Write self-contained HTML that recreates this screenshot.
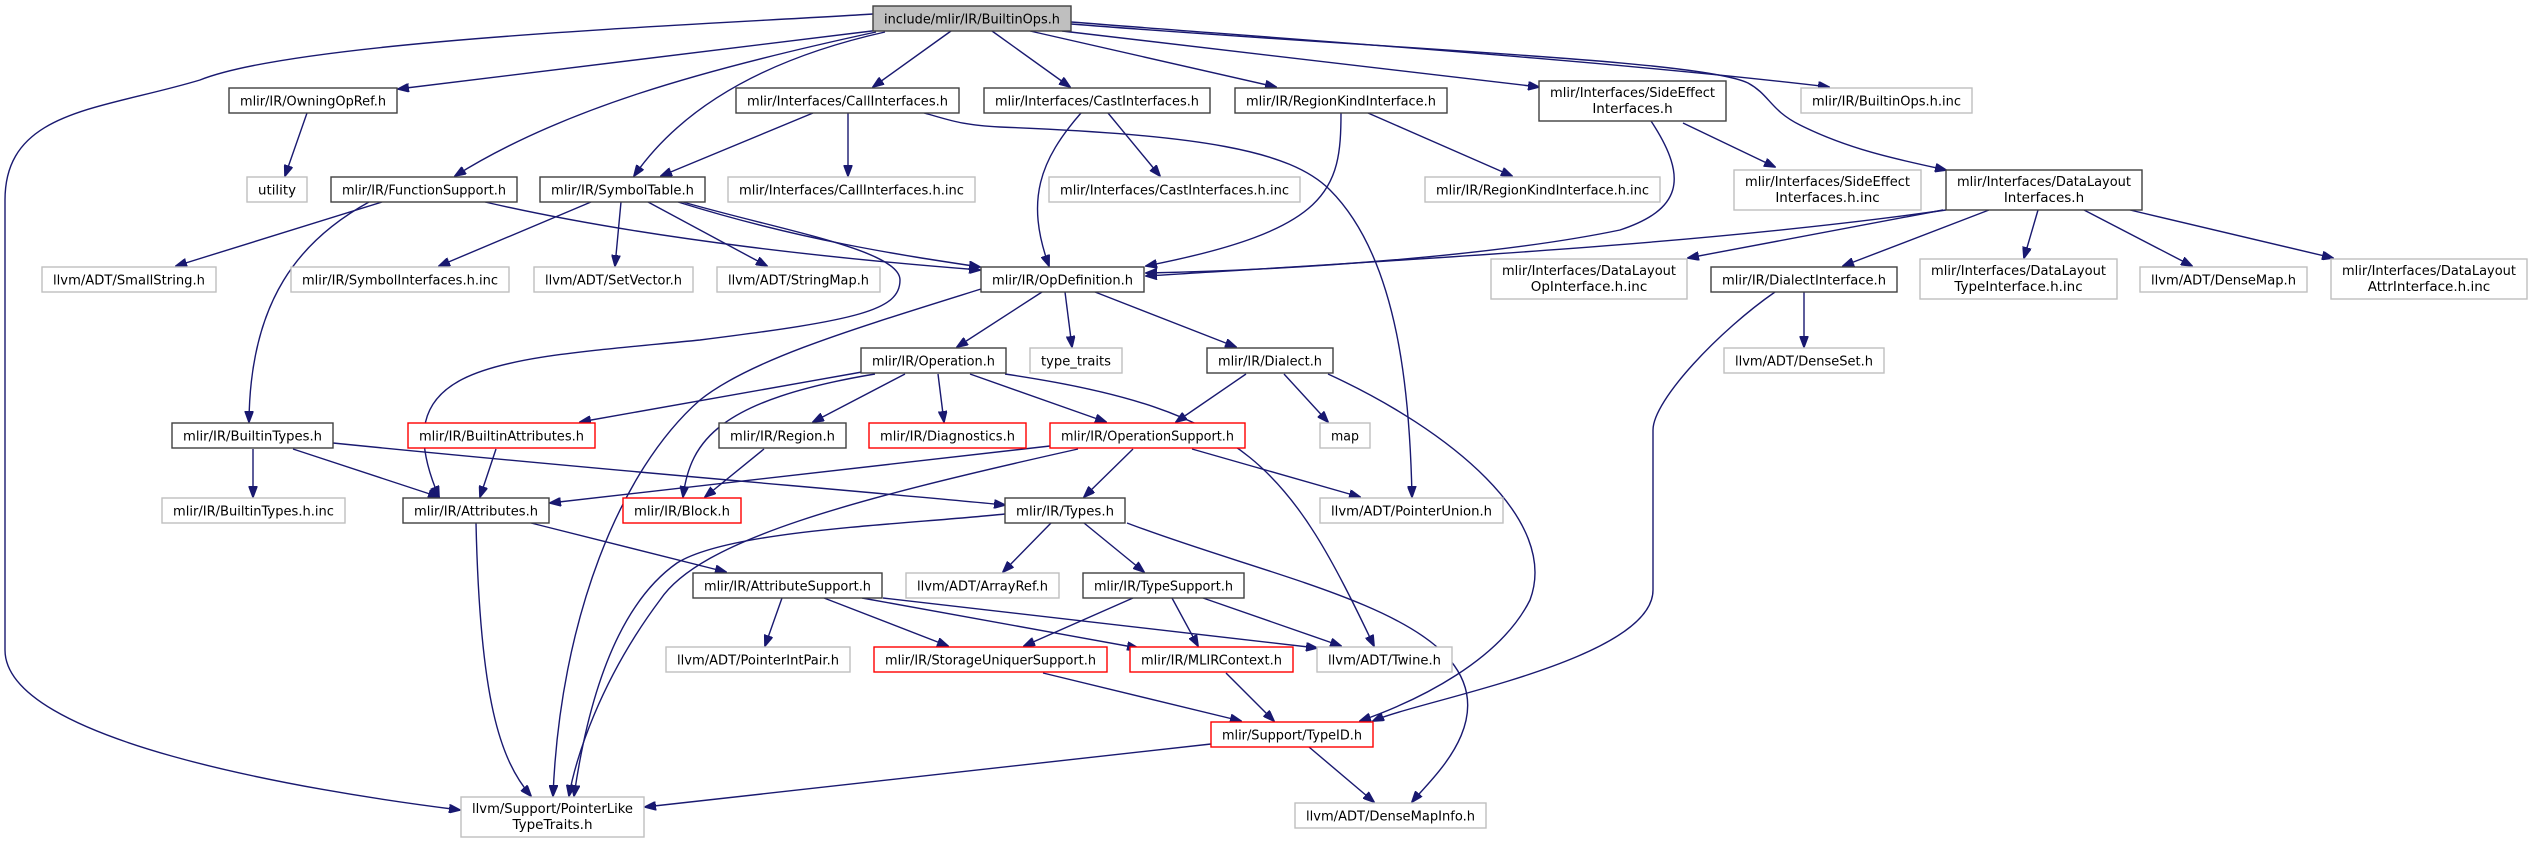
<!DOCTYPE html>
<html><head><meta charset="utf-8"><style>
html,body{margin:0;padding:0;background:#fff;}
svg{display:block}
text{font-family:"DejaVu Sans","Liberation Sans",sans-serif;font-size:13.5px;fill:#000}
.e{fill:none;stroke:#191970;stroke-width:1.4}
</style></head><body>
<svg width="2533" height="843" viewBox="0 0 2533 843" xmlns="http://www.w3.org/2000/svg">
<defs><marker id="a" markerWidth="12" markerHeight="9" refX="11" refY="4.5" orient="auto" markerUnits="userSpaceOnUse"><path d="M0,0 L12,4.5 L0,9 Z" fill="#191970" stroke="#191970"/></marker></defs>
<g marker-end="url(#a)" class="e">
<path class="e" d="M873,14 C700,25 300,40 200,80 C100,110 5,110 5,200 L5,650 C5,740 300,790 460,810"/>
<path class="e" d="M880,30 L398,89"/>
<path class="e" d="M876,32 C700,70 560,110 455,176"/>
<path class="e" d="M885,32 C760,60 680,110 634,176"/>
<path class="e" d="M951,31 L873,87"/>
<path class="e" d="M992,31 L1070,87"/>
<path class="e" d="M1030,31 L1276,87"/>
<path class="e" d="M1062,31 L1539,87"/>
<path class="e" d="M1071,22 C1300,40 1600,60 1829,87"/>
<path class="e" d="M1071,24 C1400,50 1700,60 1748,83 C1770,95 1770,110 1800,125 C1850,150 1900,160 1946,170"/>
<path class="e" d="M813,113 L661,176"/>
<path class="e" d="M848,113 L848,176"/>
<path class="e" d="M924,113 C950,120 960,125 1000,127 C1200,135 1290,150 1330,190 C1400,260 1410,400 1412,497"/>
<path class="e" d="M1081,113 C1040,160 1025,200 1049,266"/>
<path class="e" d="M1108,113 L1160,176"/>
<path class="e" d="M1341,113 C1341,190 1330,230 1146,266"/>
<path class="e" d="M1368,113 L1512,176"/>
<path class="e" d="M1651,121 C1690,180 1680,210 1620,230 C1500,255 1300,270 1146,273"/>
<path class="e" d="M1683,123 L1775,167"/>
<path class="e" d="M1946,210 C1700,245 1400,260 1146,276"/>
<path class="e" d="M1943,210 L1688,258"/>
<path class="e" d="M1989,210 L1843,266"/>
<path class="e" d="M2038,210 L2024,258"/>
<path class="e" d="M2084,210 L2192,266"/>
<path class="e" d="M2130,210 L2333,258"/>
<path class="e" d="M1804,292 L1804,347"/>
<path class="e" d="M1775,292 C1720,330 1653,400 1653,430 L1653,590 C1653,660 1420,700 1373,721"/>
<path class="e" d="M307,113 L285,176"/>
<path class="e" d="M382,202 L176,266"/>
<path class="e" d="M369,202 C300,240 250,300 249,422"/>
<path class="e" d="M485,202 C650,240 850,260 980,270"/>
<path class="e" d="M591,202 L439,266"/>
<path class="e" d="M621,202 L615,266"/>
<path class="e" d="M648,202 L767,266"/>
<path class="e" d="M678,202 C800,240 900,255 980,267"/>
<path class="e" d="M683,202 C780,230 900,250 900,280 C900,310 860,320 700,340 C500,360 380,360 439,497"/>
<path class="e" d="M981,289 C850,330 750,360 700,400 C620,470 560,620 553,796"/>
<path class="e" d="M1042,292 L957,347"/>
<path class="e" d="M1065,292 L1072,347"/>
<path class="e" d="M1095,292 L1236,347"/>
<path class="e" d="M862,372 L580,422"/>
<path class="e" d="M875,374 C720,400 690,440 683,497"/>
<path class="e" d="M905,374 L813,422"/>
<path class="e" d="M938,374 L944,422"/>
<path class="e" d="M970,374 L1106,422"/>
<path class="e" d="M1005,374 C1250,410 1290,470 1374,646"/>
<path class="e" d="M1246,374 L1176,422"/>
<path class="e" d="M1284,374 L1328,422"/>
<path class="e" d="M1328,374 C1450,430 1560,520 1530,600 C1500,660 1420,700 1360,721"/>
<path class="e" d="M496,449 L480,497"/>
<path class="e" d="M764,449 L705,497"/>
<path class="e" d="M253,449 L253,497"/>
<path class="e" d="M293,449 L439,497"/>
<path class="e" d="M333,443 C600,470 850,490 1005,505"/>
<path class="e" d="M1050,446 L550,503"/>
<path class="e" d="M1078,449 C850,500 700,540 660,600 C600,680 575,760 569,796"/>
<path class="e" d="M1133,449 L1084,497"/>
<path class="e" d="M1192,449 L1360,497"/>
<path class="e" d="M1005,514 C900,525 730,530 677,563 C610,610 585,720 574,796"/>
<path class="e" d="M1051,523 L1003,572"/>
<path class="e" d="M1084,523 L1144,572"/>
<path class="e" d="M1127,523 C1250,570 1400,600 1450,660 C1500,720 1430,780 1412,802"/>
<path class="e" d="M531,523 L726,572"/>
<path class="e" d="M476,523 C480,700 500,760 531,796"/>
<path class="e" d="M782,598 L765,646"/>
<path class="e" d="M824,598 L948,646"/>
<path class="e" d="M862,598 L1138,648"/>
<path class="e" d="M883,598 L1317,648"/>
<path class="e" d="M1133,598 L1024,646"/>
<path class="e" d="M1172,598 L1198,646"/>
<path class="e" d="M1203,598 L1341,646"/>
<path class="e" d="M1043,673 L1241,721"/>
<path class="e" d="M1226,673 L1274,721"/>
<path class="e" d="M1211,744 L645,807"/>
<path class="e" d="M1309,747 L1374,802"/>
</g>
<g stroke-width="1.4">
<!-- nodes -->
<rect x="873" y="6" width="198" height="25" fill="#bfbfbf" stroke="#404040"/>
<text x="884" y="23.5" textLength="176" lengthAdjust="spacingAndGlyphs">include/mlir/IR/BuiltinOps.h</text>

<rect x="229" y="88" width="168" height="25" fill="#fff" stroke="#404040"/>
<text x="240" y="105.5" textLength="146" lengthAdjust="spacingAndGlyphs">mlir/IR/OwningOpRef.h</text>
<rect x="736" y="88" width="223" height="25" fill="#fff" stroke="#404040"/>
<text x="747" y="105.5" textLength="201" lengthAdjust="spacingAndGlyphs">mlir/Interfaces/CallInterfaces.h</text>
<rect x="984" y="88" width="226" height="25" fill="#fff" stroke="#404040"/>
<text x="995" y="105.5" textLength="204" lengthAdjust="spacingAndGlyphs">mlir/Interfaces/CastInterfaces.h</text>
<rect x="1235" y="88" width="212" height="25" fill="#fff" stroke="#404040"/>
<text x="1246" y="105.5" textLength="190" lengthAdjust="spacingAndGlyphs">mlir/IR/RegionKindInterface.h</text>
<rect x="1539" y="81" width="187" height="40" fill="#fff" stroke="#404040"/>
<text x="1550" y="97" textLength="165" lengthAdjust="spacingAndGlyphs">mlir/Interfaces/SideEffect</text>
<text x="1632.5" y="113" text-anchor="middle">Interfaces.h</text>
<rect x="1801" y="88" width="171" height="25" fill="#fff" stroke="#bfbfbf"/>
<text x="1812" y="105.5" textLength="149" lengthAdjust="spacingAndGlyphs">mlir/IR/BuiltinOps.h.inc</text>

<rect x="247" y="177" width="60" height="25" fill="#fff" stroke="#bfbfbf"/>
<text x="258" y="194.5" textLength="38" lengthAdjust="spacingAndGlyphs">utility</text>
<rect x="331" y="177" width="186" height="25" fill="#fff" stroke="#404040"/>
<text x="342" y="194.5" textLength="164" lengthAdjust="spacingAndGlyphs">mlir/IR/FunctionSupport.h</text>
<rect x="540" y="177" width="165" height="25" fill="#fff" stroke="#404040"/>
<text x="551" y="194.5" textLength="143" lengthAdjust="spacingAndGlyphs">mlir/IR/SymbolTable.h</text>
<rect x="728" y="177" width="247" height="25" fill="#fff" stroke="#bfbfbf"/>
<text x="739" y="194.5" textLength="225" lengthAdjust="spacingAndGlyphs">mlir/Interfaces/CallInterfaces.h.inc</text>
<rect x="1049" y="177" width="251" height="25" fill="#fff" stroke="#bfbfbf"/>
<text x="1060" y="194.5" textLength="229" lengthAdjust="spacingAndGlyphs">mlir/Interfaces/CastInterfaces.h.inc</text>
<rect x="1425" y="177" width="235" height="25" fill="#fff" stroke="#bfbfbf"/>
<text x="1436" y="194.5" textLength="213" lengthAdjust="spacingAndGlyphs">mlir/IR/RegionKindInterface.h.inc</text>
<rect x="1734" y="170" width="187" height="40" fill="#fff" stroke="#bfbfbf"/>
<text x="1745" y="186" textLength="165" lengthAdjust="spacingAndGlyphs">mlir/Interfaces/SideEffect</text>
<text x="1827.5" y="202" text-anchor="middle">Interfaces.h.inc</text>
<rect x="1946" y="170" width="196" height="40" fill="#fff" stroke="#404040"/>
<text x="1957" y="186" textLength="174" lengthAdjust="spacingAndGlyphs">mlir/Interfaces/DataLayout</text>
<text x="2044" y="202" text-anchor="middle">Interfaces.h</text>

<rect x="42" y="267" width="174" height="25" fill="#fff" stroke="#bfbfbf"/>
<text x="53" y="284.5" textLength="152" lengthAdjust="spacingAndGlyphs">llvm/ADT/SmallString.h</text>
<rect x="291" y="267" width="218" height="25" fill="#fff" stroke="#bfbfbf"/>
<text x="302" y="284.5" textLength="196" lengthAdjust="spacingAndGlyphs">mlir/IR/SymbolInterfaces.h.inc</text>
<rect x="534" y="267" width="159" height="25" fill="#fff" stroke="#bfbfbf"/>
<text x="545" y="284.5" textLength="137" lengthAdjust="spacingAndGlyphs">llvm/ADT/SetVector.h</text>
<rect x="717" y="267" width="163" height="25" fill="#fff" stroke="#bfbfbf"/>
<text x="728" y="284.5" textLength="141" lengthAdjust="spacingAndGlyphs">llvm/ADT/StringMap.h</text>
<rect x="981" y="267" width="163" height="25" fill="#fff" stroke="#404040"/>
<text x="992" y="284.5" textLength="141" lengthAdjust="spacingAndGlyphs">mlir/IR/OpDefinition.h</text>
<rect x="1491" y="259" width="196" height="40" fill="#fff" stroke="#bfbfbf"/>
<text x="1502" y="275" textLength="174" lengthAdjust="spacingAndGlyphs">mlir/Interfaces/DataLayout</text>
<text x="1589" y="291" text-anchor="middle">OpInterface.h.inc</text>
<rect x="1711" y="267" width="186" height="25" fill="#fff" stroke="#404040"/>
<text x="1722" y="284.5" textLength="164" lengthAdjust="spacingAndGlyphs">mlir/IR/DialectInterface.h</text>
<rect x="1920" y="259" width="197" height="40" fill="#fff" stroke="#bfbfbf"/>
<text x="1931" y="275" textLength="175" lengthAdjust="spacingAndGlyphs">mlir/Interfaces/DataLayout</text>
<text x="2018.5" y="291" text-anchor="middle">TypeInterface.h.inc</text>
<rect x="2140" y="267" width="167" height="25" fill="#fff" stroke="#bfbfbf"/>
<text x="2151" y="284.5" textLength="145" lengthAdjust="spacingAndGlyphs">llvm/ADT/DenseMap.h</text>
<rect x="2331" y="259" width="196" height="40" fill="#fff" stroke="#bfbfbf"/>
<text x="2342" y="275" textLength="174" lengthAdjust="spacingAndGlyphs">mlir/Interfaces/DataLayout</text>
<text x="2429" y="291" text-anchor="middle">AttrInterface.h.inc</text>

<rect x="861" y="348" width="145" height="25" fill="#fff" stroke="#404040"/>
<text x="872" y="365.5" textLength="123" lengthAdjust="spacingAndGlyphs">mlir/IR/Operation.h</text>
<rect x="1030" y="348" width="92" height="25" fill="#fff" stroke="#bfbfbf"/>
<text x="1041" y="365.5" textLength="70" lengthAdjust="spacingAndGlyphs">type_traits</text>
<rect x="1207" y="348" width="126" height="25" fill="#fff" stroke="#404040"/>
<text x="1218" y="365.5" textLength="104" lengthAdjust="spacingAndGlyphs">mlir/IR/Dialect.h</text>
<rect x="1724" y="348" width="160" height="25" fill="#fff" stroke="#bfbfbf"/>
<text x="1735" y="365.5" textLength="138" lengthAdjust="spacingAndGlyphs">llvm/ADT/DenseSet.h</text>

<rect x="172" y="423" width="161" height="25" fill="#fff" stroke="#404040"/>
<text x="183" y="440.5" textLength="139" lengthAdjust="spacingAndGlyphs">mlir/IR/BuiltinTypes.h</text>
<rect x="408" y="423" width="187" height="25" fill="#fff" stroke="#ff0000"/>
<text x="419" y="440.5" textLength="165" lengthAdjust="spacingAndGlyphs">mlir/IR/BuiltinAttributes.h</text>
<rect x="719" y="423" width="127" height="25" fill="#fff" stroke="#404040"/>
<text x="730" y="440.5" textLength="105" lengthAdjust="spacingAndGlyphs">mlir/IR/Region.h</text>
<rect x="869" y="423" width="157" height="25" fill="#fff" stroke="#ff0000"/>
<text x="880" y="440.5" textLength="135" lengthAdjust="spacingAndGlyphs">mlir/IR/Diagnostics.h</text>
<rect x="1050" y="423" width="195" height="25" fill="#fff" stroke="#ff0000"/>
<text x="1061" y="440.5" textLength="173" lengthAdjust="spacingAndGlyphs">mlir/IR/OperationSupport.h</text>
<rect x="1320" y="423" width="50" height="25" fill="#fff" stroke="#bfbfbf"/>
<text x="1331" y="440.5" textLength="28" lengthAdjust="spacingAndGlyphs">map</text>

<rect x="162" y="498" width="183" height="25" fill="#fff" stroke="#bfbfbf"/>
<text x="173" y="515.5" textLength="161" lengthAdjust="spacingAndGlyphs">mlir/IR/BuiltinTypes.h.inc</text>
<rect x="403" y="498" width="146" height="25" fill="#fff" stroke="#404040"/>
<text x="414" y="515.5" textLength="124" lengthAdjust="spacingAndGlyphs">mlir/IR/Attributes.h</text>
<rect x="623" y="498" width="118" height="25" fill="#fff" stroke="#ff0000"/>
<text x="634" y="515.5" textLength="96" lengthAdjust="spacingAndGlyphs">mlir/IR/Block.h</text>
<rect x="1005" y="498" width="120" height="25" fill="#fff" stroke="#404040"/>
<text x="1016" y="515.5" textLength="98" lengthAdjust="spacingAndGlyphs">mlir/IR/Types.h</text>
<rect x="1320" y="498" width="183" height="25" fill="#fff" stroke="#bfbfbf"/>
<text x="1331" y="515.5" textLength="161" lengthAdjust="spacingAndGlyphs">llvm/ADT/PointerUnion.h</text>

<rect x="693" y="573" width="189" height="25" fill="#fff" stroke="#404040"/>
<text x="704" y="590.5" textLength="167" lengthAdjust="spacingAndGlyphs">mlir/IR/AttributeSupport.h</text>
<rect x="906" y="573" width="153" height="25" fill="#fff" stroke="#bfbfbf"/>
<text x="917" y="590.5" textLength="131" lengthAdjust="spacingAndGlyphs">llvm/ADT/ArrayRef.h</text>
<rect x="1083" y="573" width="161" height="25" fill="#fff" stroke="#404040"/>
<text x="1094" y="590.5" textLength="139" lengthAdjust="spacingAndGlyphs">mlir/IR/TypeSupport.h</text>

<rect x="666" y="647" width="184" height="25" fill="#fff" stroke="#bfbfbf"/>
<text x="677" y="664.5" textLength="162" lengthAdjust="spacingAndGlyphs">llvm/ADT/PointerIntPair.h</text>
<rect x="874" y="647" width="233" height="25" fill="#fff" stroke="#ff0000"/>
<text x="885" y="664.5" textLength="211" lengthAdjust="spacingAndGlyphs">mlir/IR/StorageUniquerSupport.h</text>
<rect x="1130" y="647" width="163" height="25" fill="#fff" stroke="#ff0000"/>
<text x="1141" y="664.5" textLength="141" lengthAdjust="spacingAndGlyphs">mlir/IR/MLIRContext.h</text>
<rect x="1317" y="647" width="135" height="25" fill="#fff" stroke="#bfbfbf"/>
<text x="1328" y="664.5" textLength="113" lengthAdjust="spacingAndGlyphs">llvm/ADT/Twine.h</text>

<rect x="1211" y="722" width="162" height="25" fill="#fff" stroke="#ff0000"/>
<text x="1222" y="739.5" textLength="140" lengthAdjust="spacingAndGlyphs">mlir/Support/TypeID.h</text>

<rect x="461" y="797" width="183" height="40" fill="#fff" stroke="#bfbfbf"/>
<text x="472" y="813" textLength="161" lengthAdjust="spacingAndGlyphs">llvm/Support/PointerLike</text>
<text x="552.5" y="829" text-anchor="middle">TypeTraits.h</text>
<rect x="1295" y="803" width="191" height="25" fill="#fff" stroke="#bfbfbf"/>
<text x="1306" y="820.5" textLength="169" lengthAdjust="spacingAndGlyphs">llvm/ADT/DenseMapInfo.h</text>
</g>
</svg>
</body></html>
